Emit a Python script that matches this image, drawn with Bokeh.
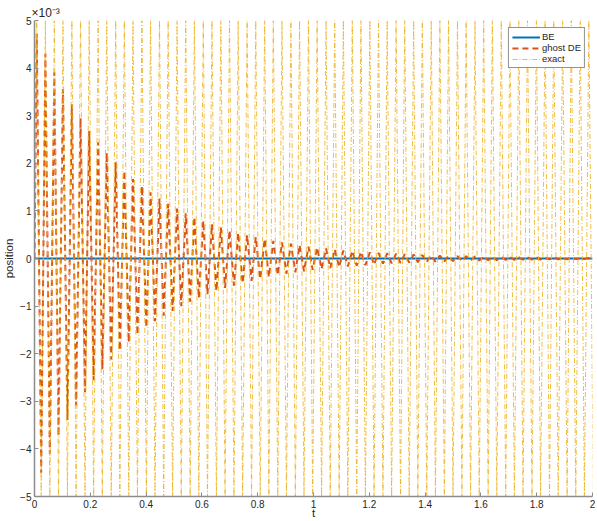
from bokeh.plotting import figure
from bokeh.models import Range1d, Legend, LegendItem, Title, FixedTicker
from bokeh.embed import file_html
from bokeh.resources import INLINE

# Turning points of the oscillations (time in s); position values in units of 1e-3
t_turn = [0.0,
    0.008, 0.024, 0.039, 0.055, 0.071, 0.086, 0.102, 0.118, 0.134, 0.149, 0.165, 0.181, 0.196, 0.212, 0.228, 0.243,
    0.259, 0.275, 0.291, 0.306, 0.322, 0.338, 0.353, 0.369, 0.385, 0.401, 0.416, 0.432, 0.448, 0.463, 0.479, 0.495,
    0.511, 0.526, 0.542, 0.558, 0.573, 0.589, 0.605, 0.620, 0.636, 0.652, 0.668, 0.683, 0.699, 0.715, 0.730, 0.746,
    0.762, 0.778, 0.793, 0.809, 0.825, 0.840, 0.856, 0.872, 0.887, 0.903, 0.919, 0.935, 0.950, 0.966, 0.982, 0.997,
    1.013, 1.029, 1.045, 1.060, 1.076, 1.092, 1.107, 1.123, 1.139, 1.155, 1.170, 1.186, 1.202, 1.217, 1.233, 1.249,
    1.264, 1.280, 1.296, 1.312, 1.327, 1.343, 1.359, 1.374, 1.390, 1.406, 1.422, 1.437, 1.453, 1.469, 1.484, 1.500,
    1.516, 1.532, 1.547, 1.563, 1.579, 1.594, 1.610, 1.626, 1.641, 1.657, 1.673, 1.689, 1.704, 1.720, 1.736, 1.751,
    1.767, 1.783, 1.799, 1.814, 1.830, 1.846, 1.861, 1.877, 1.893, 1.909, 1.924, 1.940, 1.956, 1.971, 1.987, 2.003]

exact_x = [0.0,
    5.0, -5.0, 5.0, -5.0, 5.0, -5.0, 5.0, -5.0, 5.0, -5.0, 5.0, -5.0, 5.0, -5.0, 5.0, -5.0,
    5.0, -5.0, 5.0, -5.0, 5.0, -5.0, 5.0, -5.0, 5.0, -5.0, 5.0, -5.0, 5.0, -5.0, 5.0, -5.0,
    5.0, -5.0, 5.0, -5.0, 5.0, -5.0, 5.0, -5.0, 5.0, -5.0, 5.0, -5.0, 5.0, -5.0, 5.0, -5.0,
    5.0, -5.0, 5.0, -5.0, 5.0, -5.0, 5.0, -5.0, 5.0, -5.0, 5.0, -5.0, 5.0, -5.0, 5.0, -5.0,
    5.0, -5.0, 5.0, -5.0, 5.0, -5.0, 5.0, -5.0, 5.0, -5.0, 5.0, -5.0, 5.0, -5.0, 5.0, -5.0,
    5.0, -5.0, 5.0, -5.0, 5.0, -5.0, 5.0, -5.0, 5.0, -5.0, 5.0, -5.0, 5.0, -5.0, 5.0, -5.0,
    5.0, -5.0, 5.0, -5.0, 5.0, -5.0, 5.0, -5.0, 5.0, -5.0, 5.0, -5.0, 5.0, -5.0, 5.0, -5.0,
    5.0, -5.0, 5.0, -5.0, 5.0, -5.0, 5.0, -5.0, 5.0, -5.0, 5.0, -5.0, 5.0, -5.0, 5.0, -5.0]

ghost_x = [0.0,
    4.72, -4.50, 4.30, -4.10, 3.91, -3.73, 3.56, -3.39, 3.24, -3.09, 2.95, -2.81, 2.68, -2.56, 2.44, -2.33,
    2.22, -2.12, 2.02, -1.93, 1.84, -1.76, 1.67, -1.60, 1.52, -1.45, 1.39, -1.32, 1.26, -1.20, 1.15, -1.10,
    1.05, -1.00, 0.95, -0.91, 0.87, -0.83, 0.79, -0.75, 0.72, -0.68, 0.65, -0.62, 0.59, -0.57, 0.54, -0.52,
    0.49, -0.47, 0.45, -0.43, 0.41, -0.39, 0.37, -0.35, 0.34, -0.32, 0.31, -0.29, 0.28, -0.27, 0.25, -0.24,
    0.23, -0.22, 0.21, -0.20, 0.19, -0.18, 0.17, -0.17, 0.16, -0.15, 0.14, -0.14, 0.13, -0.13, 0.12, -0.11,
    0.11, -0.10, 0.10, -0.095, 0.090, -0.086, 0.082, -0.078, 0.075, -0.071, 0.068, -0.065, 0.062, -0.059, 0.056, -0.054,
    0.051, -0.049, 0.047, -0.044, 0.042, -0.040, 0.039, -0.037, 0.035, -0.033, 0.032, -0.030, 0.029, -0.028, 0.026, -0.025,
    0.024, -0.023, 0.022, -0.021, 0.020, -0.019, 0.018, -0.017, 0.016, -0.016, 0.015, -0.014, 0.014, -0.013, 0.012, -0.012]

be_t = [0.0, 2.0]
be_x = [0.0, 0.0]

x_ticks = [0, 0.2, 0.4, 0.6, 0.8, 1, 1.2, 1.4, 1.6, 1.8, 2]
x_tick_labels = ["0", "0.2", "0.4", "0.6", "0.8", "1", "1.2", "1.4", "1.6", "1.8", "2"]
y_ticks = [-5, -4, -3, -2, -1, 0, 1, 2, 3, 4, 5]

FONT = "Liberation Sans"
TEXT = "#262626"
AXIS = "#8c8c8c"

p = figure(width=597, height=521, output_backend="svg", toolbar_location=None,
           x_range=Range1d(0, 2), y_range=Range1d(-5, 5),
           min_border_left=33, min_border_right=5, min_border_top=20, min_border_bottom=24)
p.outline_line_color = None
p.grid.visible = False
p.background_fill_color = "white"
p.border_fill_color = "white"

r_be = p.line(be_t, be_x, line_color="#0072BD", line_width=2)
r_gh = p.line(t_turn, ghost_x, line_color="#D95319", line_width=2, line_dash="6 4")
r_ex = p.line(t_turn, exact_x, line_color="#EDB120", line_width=1, line_alpha=0.85,
              line_dash="5 2 1 2")

p.xaxis.ticker = FixedTicker(ticks=x_ticks)
p.xaxis.major_label_overrides = {k: v for k, v in zip(x_ticks, x_tick_labels)}
p.yaxis.ticker = FixedTicker(ticks=y_ticks)
p.xaxis.axis_label = "t"
p.yaxis.axis_label = "position"

for ax in (p.xaxis[0], p.yaxis[0]):
    ax.axis_line_color = AXIS
    ax.axis_line_width = 1.5
    ax.major_tick_line_color = AXIS
    ax.major_tick_in = 4
    ax.major_tick_out = 0
    ax.minor_tick_line_color = None
    ax.major_label_text_font = FONT
    ax.major_label_text_font_size = "10px"
    ax.major_label_text_color = TEXT
    ax.major_label_standoff = 3
    ax.axis_label_text_font = FONT
    ax.axis_label_text_font_size = "11.5px"
    ax.axis_label_text_font_style = "normal"
    ax.axis_label_text_color = TEXT
p.xaxis.axis_label_standoff = -4
p.yaxis.axis_label_standoff = 2

# exponent marker of the y axis, sitting above the frame's top-left corner
p.add_layout(Title(text="×10⁻³", align="left", offset=-3, standoff=2,
                   text_font=FONT, text_font_size="12px", text_font_style="normal",
                   text_color=TEXT), "above")

legend = Legend(items=[LegendItem(label="BE", renderers=[r_be]),
                       LegendItem(label="ghost DE", renderers=[r_gh]),
                       LegendItem(label="exact", renderers=[r_ex])],
                location="top_right")
legend.label_text_font = FONT
legend.label_text_font_size = "9.5px"
legend.label_text_color = TEXT
legend.glyph_width = 28
legend.glyph_height = 8
legend.label_height = 8
legend.label_standoff = 2
legend.spacing = 0
legend.padding = 3
legend.margin = 7
legend.border_line_color = "#262626"
legend.border_line_width = 1
legend.background_fill_color = "white"
legend.background_fill_alpha = 1
p.add_layout(legend)

open("out.html", "w").write(file_html(p, INLINE))
